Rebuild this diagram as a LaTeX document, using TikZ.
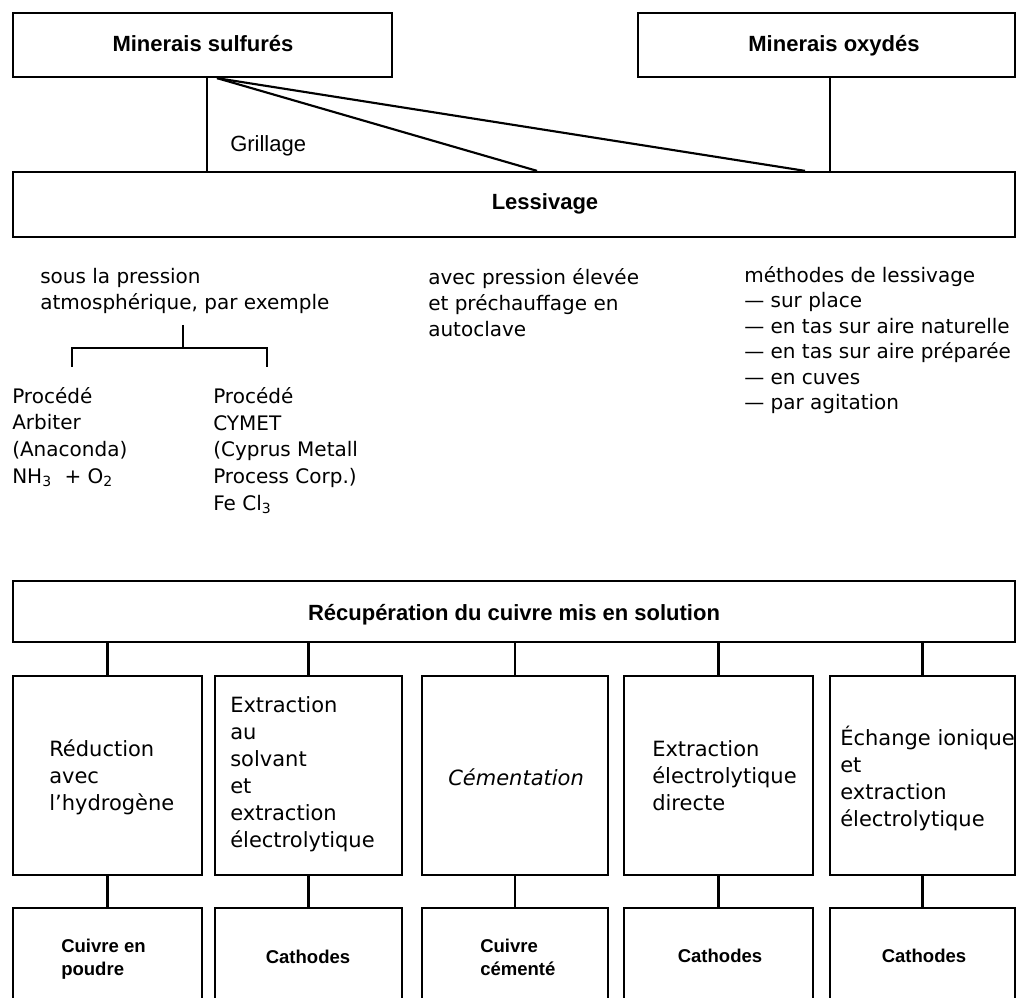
\documentclass[tikz,border=0pt]{standalone}
\usepackage{fontspec}
\setmainfont{DejaVu Sans}
\newfontfamily\lib{Liberation Sans}
\usetikzlibrary{fit}
\tikzset{
  box/.style={draw, line width=1.7pt, inner sep=0pt},
  conn/.style={line width=1.6pt},
  thin/.style={line width=1.2pt},
  hd/.style={font=\lib\bfseries\fontsize{16.5}{20}\selectfont, inner sep=0pt, anchor=base},
  mid/.style={font=\fontsize{15}{19.5}\selectfont, align=left, inner sep=0pt, anchor=base west},
  bx/.style={font=\fontsize{15.75}{20.25}\selectfont, align=left, inner sep=0pt, anchor=base west},
  res/.style={font=\lib\bfseries\fontsize{13.9}{17.25}\selectfont, align=left, inner sep=0pt, anchor=base west},
  resc/.style={font=\lib\bfseries\fontsize{13.9}{17.25}\selectfont, inner sep=0pt, anchor=base},
}
\begin{document}
\begin{tikzpicture}[x=0.75pt,y=-0.75pt]
\useasboundingbox (0,0) rectangle (1017,998);
\clip (0,0) rectangle (1017,998);

% top boxes
\node[box, fit={(13,13) (392,77)}] (sulf) {};
\node[box, fit={(638,13) (1015,77)}] (oxy) {};
\node[box, fit={(13,172) (1015,237)}] (less) {};
\node[hd] (tsulf) at (203,52) {Minerais sulfurés};
\node[hd] (toxy) at (834,52) {Minerais oxydés};
\node[hd] (tless) at (545,210) {Lessivage};

\coordinate (g1) at (207,0);
\coordinate (d0) at (217,0);
\coordinate (d1) at (537,0);
\coordinate (d2) at (805,0);
\coordinate (g2) at (830,0);
\draw[thin] (g1 |- sulf.south) -- (g1 |- less.north);
\draw[conn] (d0 |- sulf.south) -- (d1 |- less.north);
\draw[conn] (d0 |- sulf.south) -- (d2 |- less.north);
\draw[thin] (g2 |- oxy.south) -- (g2 |- less.north);
\node[font=\lib\fontsize{16.5}{20}\selectfont, inner sep=0pt, anchor=base west] (grill) at (230,152) {Grillage};

% middle texts (anchor = baseline of last line)
\node[mid] (atmo) at (40,310) {sous la pression\\atmosphérique, par exemple};
\node[mid] (haute) at (428,337) {avec pression élevée\\et préchauffage en\\autoclave};
\node[mid, font=\fontsize{15}{19.2}\selectfont] (meth) at (744,410) {méthodes de lessivage\\— sur place\\— en tas sur aire naturelle\\— en tas sur aire préparée\\— en cuves\\— par agitation};

\coordinate (bs) at (183,325);
\coordinate (bm) at (183,348);
\coordinate (bl) at (72,348);
\coordinate (bll) at (72,367);
\coordinate (br) at (267,348);
\coordinate (brl) at (267,367);
\draw[thin] (bs) -- (bm);
\draw[thin] (bll) -- (bl) -- (br) -- (brl);

\node[mid, font=\fontsize{15}{20}\selectfont] (arb) at (12,483) {Procédé\\Arbiter\\(Anaconda)\\NH\textsubscript{3}\ \ + O\textsubscript{2}};
\node[mid, font=\fontsize{15}{20}\selectfont] (cym) at (213,510) {Procédé\\CYMET\\(Cyprus Metall\\Process Corp.)\\Fe Cl\textsubscript{3}};

% bottom section
\node[box, fit={(13,581) (1015,642)}] (rec) {};
\node[hd] (trec) at (514,620) {Récupération du cuivre mis en solution};

\node[box, fit={(13,676) (202,875)}] (p1) {};
\node[box, fit={(215,676) (402,875)}] (p2) {};
\node[box, fit={(422,676) (608,875)}] (p3) {};
\node[box, fit={(624,676) (813,875)}] (p4) {};
\node[box, fit={(830,676) (1015,875)}] (p5) {};

\node[box, fit={(13,908) (202,1010)}] (r1) {};
\node[box, fit={(215,908) (402,1010)}] (r2) {};
\node[box, fit={(422,908) (608,1010)}] (r3) {};
\node[box, fit={(624,908) (813,1010)}] (r4) {};
\node[box, fit={(830,908) (1015,1010)}] (r5) {};

\foreach \i in {1,...,5}{
  \draw[conn] (p\i.north) -- (p\i.north |- rec.south);
  \draw[conn] (p\i.south) -- (p\i.south |- r\i.north);
}

\node[bx] (tp1) at (49,810) {Réduction\\avec\\l’hydrogène};
\node[bx] (tp2) at (230,847) {Extraction\\au\\solvant\\et\\extraction\\électrolytique};
\node[bx, font=\itshape\fontsize{15.75}{20.25}\selectfont] (tp3) at (448,785) {Cémentation};
\node[bx] (tp4) at (652,810) {Extraction\\électrolytique\\directe};
\node[bx] (tp5) at (840,826) {Échange ionique\\et\\extraction\\électrolytique};

\node[res] (tr1) at (61,975) {Cuivre en\\poudre};
\node[resc] (tr2) at (308,963) {Cathodes};
\node[res] (tr3) at (480,975) {Cuivre\\cémenté};
\node[resc] (tr4) at (720,962) {Cathodes};
\node[resc] (tr5) at (924,962) {Cathodes};
\end{tikzpicture}
\end{document}
